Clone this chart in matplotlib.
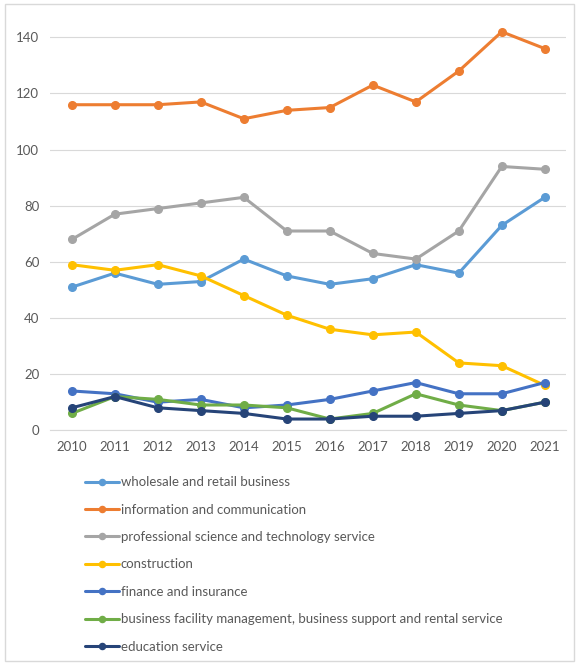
import matplotlib.pyplot as plt
from matplotlib.patches import Rectangle

years = ["2010", "2011", "2012", "2013", "2014", "2015",
         "2016", "2017", "2018", "2019", "2020", "2021"]

wholesale = [51, 56, 52, 53, 61, 55, 52, 54, 59, 56, 73, 83]
info_comm = [116, 116, 116, 117, 111, 114, 115, 123, 117, 128, 142, 136]
prof_science = [68, 77, 79, 81, 83, 71, 71, 63, 61, 71, 94, 93]
construction = [59, 57, 59, 55, 48, 41, 36, 34, 35, 24, 23, 16]
finance = [14, 13, 10, 11, 8, 9, 11, 14, 17, 13, 13, 17]
business_facility = [6, 12, 11, 9, 9, 8, 4, 6, 13, 9, 7, 10]
education = [8, 12, 8, 7, 6, 4, 4, 5, 5, 6, 7, 10]

series = [
    ("wholesale and retail business", wholesale, "#5B9BD5"),
    ("information and communication", info_comm, "#ED7D31"),
    ("professional science and technology service", prof_science, "#A5A5A5"),
    ("construction", construction, "#FFC000"),
    ("finance and insurance", finance, "#4472C4"),
    ("business facility management, business support and rental service",
     business_facility, "#70AD47"),
    ("education service", education, "#264478"),
]

plt.rcParams["font.family"] = ["Lato", "DejaVu Sans"]

fig = plt.figure(figsize=(5.79, 6.65), dpi=100)
fig.patches.append(Rectangle((0.008, 0.006), 0.984, 0.988, transform=fig.transFigure,
                             fill=False, edgecolor="#d9d9d9", linewidth=1))
ax = fig.add_axes([0.087, 0.353, 0.891, 0.633])

x = list(range(len(years)))
for label, vals, color in series:
    ax.plot(x, vals, color=color, linewidth=2.2, marker="o", markersize=5.5,
            label=label, solid_capstyle="round")

ax.set_xlim(-0.5, len(years) - 0.5)
ax.set_ylim(0, 150)
ax.set_yticks(range(0, 141, 20))
ax.set_xticks(x)
ax.set_xticklabels(years)
ax.grid(axis="y", color="#d9d9d9", linewidth=0.8)
ax.set_axisbelow(True)
for side in ["top", "right", "left"]:
    ax.spines[side].set_visible(False)
ax.spines["bottom"].set_color("#d9d9d9")
ax.tick_params(length=0, labelsize=9.5, colors="#595959", pad=8)

handles, labels = ax.get_legend_handles_labels()
fig.legend(handles, labels, loc="upper left", bbox_to_anchor=(0.147, 0.284),
           frameon=False, fontsize=9.5, labelcolor="#595959",
           labelspacing=1.17, handlelength=2.6, handletextpad=0.1,
           borderaxespad=0, borderpad=0, markerscale=0.8)

fig.savefig("out.png", dpi=100)
